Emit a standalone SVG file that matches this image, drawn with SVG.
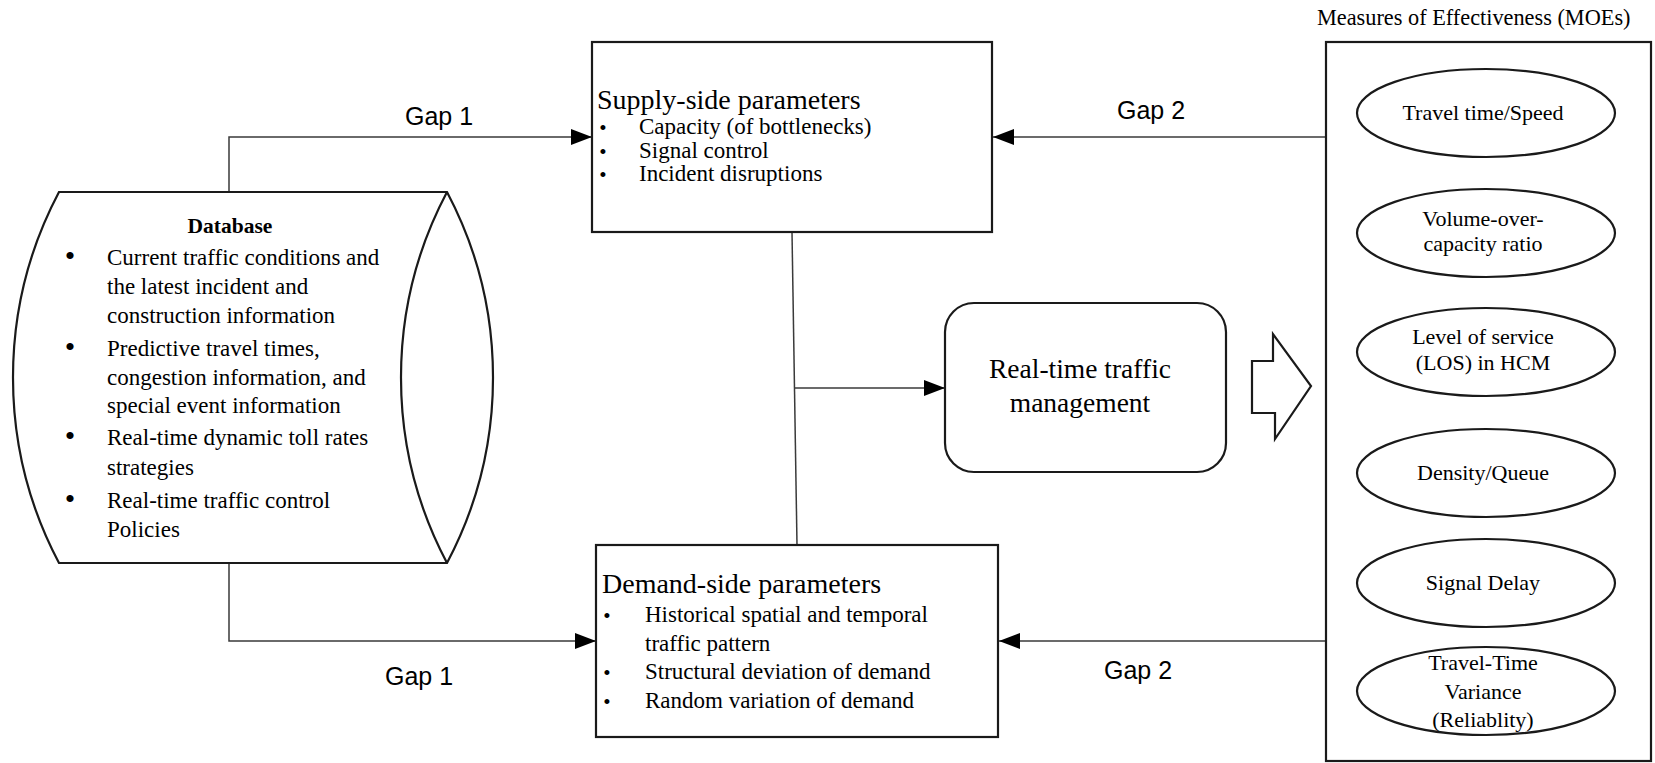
<svg xmlns="http://www.w3.org/2000/svg" width="1655" height="763" viewBox="0 0 1655 763">
  <style>
    .shape { fill: #ffffff; stroke: #1a1a1a; stroke-width: 2.2; }
    .wire { fill: none; stroke: #3a3a3a; stroke-width: 1.5; }
    .serif { font-family: "Liberation Serif", "Times New Roman", serif; fill: #000; }
    .sans { font-family: "Liberation Sans", Arial, sans-serif; fill: #000; }
    .item { font-size: 23px; }
    .dot { font-size: 21px; text-anchor: middle; }
    .head { font-size: 28px; }
    .moe { font-size: 22px; text-anchor: middle; }
    .gap { font-size: 25px; }
  </style>
  <defs>
    <marker id="tip" markerUnits="userSpaceOnUse" markerWidth="22" markerHeight="18" refX="21" refY="8" orient="auto">
      <path d="M0,0 L21,8 L0,16 Z" fill="#000"/>
    </marker>
  </defs>

  <rect width="1655" height="763" fill="#ffffff"/>

  <!-- connectors -->
  <g id="connectors">
    <polyline class="wire" points="229,192 229,137 592,137" marker-end="url(#tip)"/>
    <polyline class="wire" points="229,563 229,641 596,641" marker-end="url(#tip)"/>
    <line class="wire" x1="1326" y1="137" x2="993" y2="137" marker-end="url(#tip)"/>
    <line class="wire" x1="1332" y1="641" x2="999" y2="641" marker-end="url(#tip)"/>
    <line class="wire" x1="792" y1="232" x2="797" y2="545"/>
    <line class="wire" x1="795" y1="388" x2="945" y2="388" marker-end="url(#tip)"/>
  </g>

  <!-- gap labels -->
  <g id="gap-labels" class="sans gap">
    <text x="405" y="125">Gap 1</text>
    <text x="385" y="685">Gap 1</text>
    <text x="1117" y="119">Gap 2</text>
    <text x="1104" y="679">Gap 2</text>
  </g>

  <!-- database store -->
  <g id="database">
    <path class="shape" d="M59,192 H447 A397,397 0 0 1 447,563 H59 A397,397 0 0 1 59,192 Z"/>
    <path class="shape" fill="none" d="M447,192 A397,397 0 0 0 447,563"/>
    <text class="serif" x="230" y="233" font-size="21.5" font-weight="bold" text-anchor="middle">Database</text>
    <g class="serif item">
      <text x="70" y="266" text-anchor="middle" font-size="30">•</text>
      <text x="70" y="357" text-anchor="middle" font-size="30">•</text>
      <text x="70" y="446" text-anchor="middle" font-size="30">•</text>
      <text x="70" y="509" text-anchor="middle" font-size="30">•</text>
      <text x="107" y="265">Current traffic conditions and</text>
      <text x="107" y="294">the latest incident and</text>
      <text x="107" y="323">construction information</text>
      <text x="107" y="356">Predictive travel times,</text>
      <text x="107" y="385">congestion information, and</text>
      <text x="107" y="413">special event information</text>
      <text x="107" y="445">Real-time dynamic toll rates</text>
      <text x="107" y="475">strategies</text>
      <text x="107" y="508">Real-time traffic control</text>
      <text x="107" y="537">Policies</text>
    </g>
  </g>

  <!-- supply-side box -->
  <g id="supply">
    <rect class="shape" x="592" y="42" width="400" height="190"/>
    <text class="serif head" x="597" y="109">Supply-side parameters</text>
    <g class="serif item">
      <text class="dot" x="603" y="135">•</text>
      <text class="dot" x="603" y="159">•</text>
      <text class="dot" x="603" y="182">•</text>
      <text x="639" y="134">Capacity (of bottlenecks)</text>
      <text x="639" y="158">Signal control</text>
      <text x="639" y="181">Incident disruptions</text>
    </g>
  </g>

  <!-- demand-side box -->
  <g id="demand">
    <rect class="shape" x="596" y="545" width="402" height="192"/>
    <text class="serif head" x="602" y="593" font-size="29">Demand-side parameters</text>
    <g class="serif item">
      <text class="dot" x="607" y="623">•</text>
      <text class="dot" x="607" y="680">•</text>
      <text class="dot" x="607" y="709">•</text>
      <text x="645" y="622">Historical spatial and temporal</text>
      <text x="645" y="651">traffic pattern</text>
      <text x="645" y="679">Structural deviation of demand</text>
      <text x="645" y="708">Random variation of demand</text>
    </g>
  </g>

  <!-- real-time management -->
  <g id="management">
    <rect class="shape" x="945" y="303" width="281" height="169" rx="29" ry="29"/>
    <text class="serif" x="1080" y="378" font-size="27.5" text-anchor="middle">Real-time traffic</text>
    <text class="serif" x="1080" y="412" font-size="27.5" text-anchor="middle">management</text>
  </g>

  <!-- block arrow toward the measures -->
  <g id="output-arrow">
    <polygon class="shape" points="1252,361 1273,361 1273,334 1311,386 1275,439 1275,413 1252,413"/>
  </g>

  <!-- measures of effectiveness -->
  <g id="moes">
    <text class="serif" x="1317" y="25" font-size="22.3">Measures of Effectiveness (MOEs)</text>
    <rect class="shape" x="1326" y="42" width="325" height="719"/>
    <g class="serif moe">
      <ellipse class="shape" cx="1486" cy="113" rx="129" ry="44"/>
      <text x="1483" y="120">Travel time/Speed</text>

      <ellipse class="shape" cx="1486" cy="233" rx="129" ry="44"/>
      <text x="1483" y="226">Volume-over-</text>
      <text x="1483" y="251">capacity ratio</text>

      <ellipse class="shape" cx="1486" cy="352" rx="129" ry="44"/>
      <text x="1483" y="344">Level of service</text>
      <text x="1483" y="370">(LOS) in HCM</text>

      <ellipse class="shape" cx="1486" cy="473" rx="129" ry="44"/>
      <text x="1483" y="480">Density/Queue</text>

      <ellipse class="shape" cx="1486" cy="583" rx="129" ry="44"/>
      <text x="1483" y="590">Signal Delay</text>

      <ellipse class="shape" cx="1486" cy="691" rx="129" ry="44"/>
      <text x="1483" y="670">Travel-Time</text>
      <text x="1483" y="699">Variance</text>
      <text x="1483" y="727">(Reliablity)</text>
    </g>
  </g>
</svg>
